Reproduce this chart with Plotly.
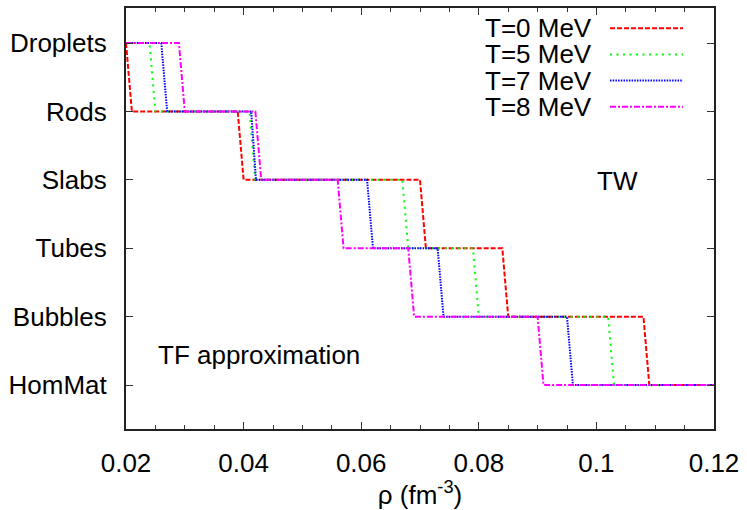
import plotly.graph_objects as go

# ---- data ----
phases = ["Droplets", "Rods", "Slabs", "Tubes", "Bubbles", "HomMat"]
phase_level = [5, 4, 3, 2, 1, 0]

temps = ["T=0 MeV", "T=5 MeV", "T=7 MeV", "T=8 MeV"]
# (last density of phase i, first density of phase i+1) for each transition, fm^-3
trans_T0 = [(0.020, 0.021), (0.039, 0.040), (0.070, 0.071), (0.084, 0.085), (0.108, 0.109)]
trans_T5 = [(0.024, 0.025), (0.041, 0.042), (0.067, 0.068), (0.079, 0.080), (0.102, 0.103)]
trans_T7 = [(0.026, 0.027), (0.0413, 0.0421), (0.061, 0.062), (0.073, 0.074), (0.095, 0.096)]
trans_T8 = [(0.029, 0.030), (0.042, 0.043), (0.056, 0.057), (0.068, 0.069), (0.090, 0.091)]
rho_min, rho_max = 0.02, 0.12

x_ticks = [0.02, 0.04, 0.06, 0.08, 0.10, 0.12]
x_ticktext = ["0.02", "0.04", "0.06", "0.08", "0.1", "0.12"]

colors = ["#ff0000", "#00ff00", "#0000ff", "#ff00ff"]
dashes = ["5px,2px", "2px,4.5px", "1.5px,1.2px", "6px,2px,2px,2px"]

# ---- geometry (pixels) ----
W, H = 747, 510
L, R, T, B = 126, 714, 6, 435
FONT = "Liberation Sans, Arial, sans-serif"
FS = 26

def px(xp):
    return (xp - L) / (R - L)

def py(yp):
    return (B - yp) / (B - T)

fig = go.Figure()
for name, tr, c, d in zip(temps, [trans_T0, trans_T5, trans_T7, trans_T8], colors, dashes):
    xs = [rho_min]
    ys = [phase_level[0]]
    for i, (a, b) in enumerate(tr):
        xs += [a, b]
        ys += [phase_level[i], phase_level[i + 1]]
    xs.append(rho_max)
    ys.append(phase_level[-1])
    fig.add_trace(go.Scatter(x=xs, y=ys, mode="lines", name=name,
                             line=dict(color=c, width=2, dash=d), showlegend=False))

# legend (gnuplot style: text then sample on the right)
row_y = [26.7, 53.3, 80, 106.7]
for name, c, d, yy in zip(temps, colors, dashes, row_y):
    fig.add_annotation(x=px(594), y=py(yy), xref="paper", yref="paper", text=name,
                       showarrow=False, xanchor="right", yanchor="middle",
                       font=dict(family=FONT, size=FS, color="black"))
    fig.add_shape(type="line", xref="paper", yref="paper", x0=px(610), x1=px(683),
                  y0=py(yy), y1=py(yy), line=dict(color=c, width=2, dash=d))

fig.add_annotation(x=px(617), y=py(182), xref="paper", yref="paper", text="TW",
                   showarrow=False, xanchor="center", yanchor="middle",
                   font=dict(family=FONT, size=FS, color="black"))
fig.add_annotation(x=px(259), y=py(360), xref="paper", yref="paper", text="TF approximation",
                   showarrow=False, xanchor="center", yanchor="middle",
                   font=dict(family=FONT, size=FS, color="black"))

y0 = 5 + (41.7 - B) / 69.7
y1 = 5 + (41.7 - T) / 69.7

fig.update_layout(
    width=W, height=H,
    margin=dict(l=L, r=W - R, t=T, b=H - B),
    plot_bgcolor="white", paper_bgcolor="white",
    font=dict(family=FONT, size=FS, color="black"),
    showlegend=False,
    xaxis=dict(range=[rho_min, rho_max], tickvals=x_ticks, ticktext=x_ticktext,
               ticks="inside", ticklen=7, tickwidth=1, tickcolor="#333",
               minor=dict(dtick=0.005, ticks="inside", ticklen=4, tickcolor="#333", showgrid=False),
               showline=True, linecolor="#222", linewidth=2, mirror="allticks",
               showgrid=False, zeroline=False, ticklabelstandoff=10,
               title=dict(text="ρ (fm<sup>-3</sup>)", standoff=8,
                          font=dict(family=FONT, size=FS))),
    yaxis=dict(range=[y0, y1], tickvals=phase_level, ticktext=phases,
               ticks="inside", ticklen=7, tickwidth=1, tickcolor="#333",
               showline=True, linecolor="#222", linewidth=2, mirror="allticks",
               showgrid=False, zeroline=False, ticklabelstandoff=12),
)

fig.write_html("out.html")
